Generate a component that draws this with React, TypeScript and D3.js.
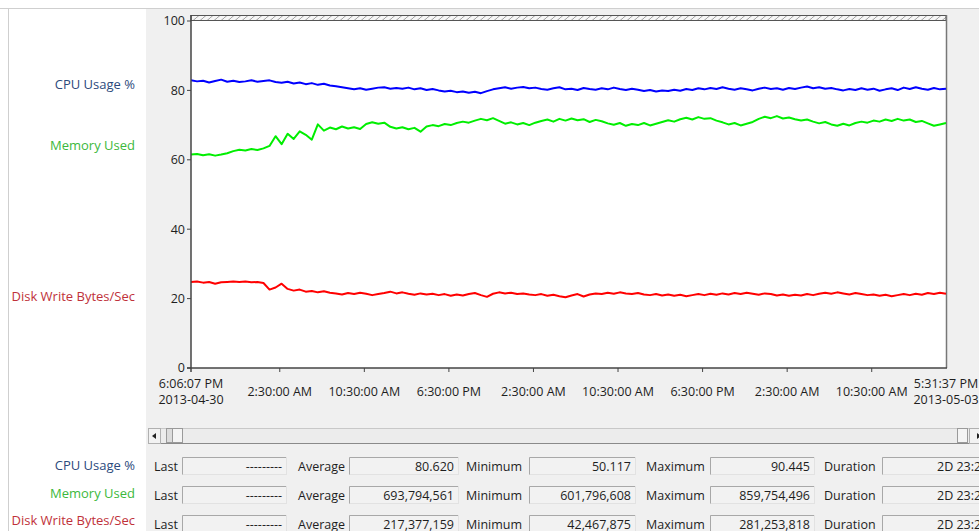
import React from "react";
import * as d3 from "d3";

const seriesNames = ["CPU Usage %", "Memory Used", "Disk Write Bytes/Sec"];
const seriesColors = ["#0000ff", "#00ee00", "#ff0000"];
const labelColors = ["#2c4a7c", "#3cb83c", "#c0313a"];

const startTime = new Date(2013, 3, 30, 18, 6, 7);
const endTime = new Date(2013, 4, 3, 17, 31, 37);

const xTickTimes = [
  new Date(2013, 4, 1, 2, 30, 0),
  new Date(2013, 4, 1, 10, 30, 0),
  new Date(2013, 4, 1, 18, 30, 0),
  new Date(2013, 4, 2, 2, 30, 0),
  new Date(2013, 4, 2, 10, 30, 0),
  new Date(2013, 4, 2, 18, 30, 0),
  new Date(2013, 4, 3, 2, 30, 0),
  new Date(2013, 4, 3, 10, 30, 0),
];
const yTicks = [0, 20, 40, 60, 80, 100];

const cpuValues = [
  82.9, 82.6, 82.8, 82.3, 82.7, 83.1, 82.5, 82.8, 82.4, 82.6, 82.9, 82.5,
  82.7, 82.9, 82.4, 82.2, 82.5, 82.0, 82.3, 81.8, 82.1, 81.6, 81.9, 81.4,
  81.2, 80.9, 80.6, 80.3, 80.6, 80.2, 80.5, 80.8, 80.9, 80.5, 80.7,
  80.5, 80.8, 80.3, 80.6, 80.1, 80.4, 80.0, 79.7, 79.9, 79.5, 79.7,
  79.3, 79.6, 79.2, 79.8, 80.3, 80.6, 80.9, 80.5, 80.8, 81.0, 80.6,
  80.8, 80.4, 80.2, 80.6, 80.9, 80.3, 80.5, 80.1, 80.7, 80.4, 80.2,
  80.6, 80.3, 80.8, 80.4, 80.1, 80.5, 80.2, 79.8, 80.1, 79.7, 80.0,
  79.8, 80.2, 79.9, 80.4, 80.1, 80.6, 80.3, 80.7, 80.4, 80.9, 80.5,
  80.2, 80.6, 80.3, 80.0, 80.5, 80.8, 80.4, 80.6, 80.2, 80.7, 80.4,
  80.8, 81.1, 80.6, 80.9, 80.5, 80.7, 80.3, 80.0, 80.4, 80.1, 80.6,
  80.2, 80.5, 79.9, 80.3, 80.6, 80.1, 80.8, 80.4, 80.9, 80.5, 80.2, 80.7, 80.3, 80.5,
];

const memoryValues = [
  61.5, 61.7, 61.3, 61.6, 61.2, 61.5, 61.9, 62.5, 62.9, 62.7, 63.1, 62.8,
  63.3, 64.0, 66.8, 64.5, 67.5, 66.0, 68.2, 67.2, 65.8, 70.2, 68.4, 69.3,
  68.8, 69.6, 69.0, 69.4, 68.9, 70.3, 70.8, 70.4, 70.7, 69.5, 69.0,
  69.4, 68.8, 69.2, 68.1, 69.6, 70.0, 69.7, 70.3, 70.0, 70.6, 71.0,
  70.7, 71.3, 71.8, 71.4, 72.0, 71.2, 70.4, 70.8, 70.2, 70.6, 70.0,
  70.7, 71.2, 71.6, 71.0, 71.8, 71.3, 71.9, 71.4, 71.7, 70.9, 71.5,
  71.1, 70.5, 70.1, 70.6, 69.8, 70.3, 70.0, 70.6, 69.9, 70.4, 70.9,
  71.4, 71.0, 71.7, 72.1, 71.6, 72.3, 71.8, 72.0, 71.3, 70.8, 70.2,
  70.6, 69.9, 70.4, 70.9, 71.8, 72.4, 72.0, 72.6, 71.9, 72.2, 71.7,
  71.3, 71.6, 71.0, 70.5, 70.9, 70.2, 69.8, 70.4, 69.9, 70.6, 71.0,
  70.7, 71.3, 71.0, 71.6, 71.2, 71.8, 71.3, 71.6, 70.9, 71.2, 70.5, 69.8, 70.2, 70.6,
];

const diskValues = [
  24.8, 24.9, 24.6, 24.8, 24.3, 24.7, 24.8, 24.9, 24.8, 24.9, 24.7, 24.8,
  24.5, 22.6, 23.2, 24.3, 22.8, 22.3, 22.6, 22.0, 22.2, 21.8, 22.1, 21.7,
  21.5, 21.2, 21.6, 21.3, 21.7, 21.4, 21.0, 21.3, 21.6, 22.0, 21.5,
  21.8, 21.4, 21.1, 21.5, 21.2, 21.4, 21.0, 21.3, 20.8, 21.2, 20.9,
  21.3, 21.6, 21.0, 20.5, 21.4, 21.8, 21.5, 21.7, 21.3, 21.5, 21.2,
  21.0, 21.3, 20.8, 21.1, 20.7, 20.4, 20.9, 21.3, 20.6, 21.2, 21.5,
  21.3, 21.7, 21.4, 21.8, 21.5, 21.3, 21.6, 21.2, 21.0, 21.3, 20.9,
  21.2, 20.8, 21.1, 20.7, 21.0, 21.3, 21.0, 21.4, 21.1, 21.5, 21.2,
  21.6, 21.3, 21.7, 21.4, 21.1, 21.5, 21.3, 20.9, 21.2, 20.8, 21.1,
  20.9, 21.3, 21.0, 21.4, 21.7, 21.4, 21.8, 21.5, 21.2, 21.6, 21.3,
  21.0, 21.2, 20.8, 21.1, 20.7, 21.0, 21.3, 21.0, 21.4, 21.1, 21.6, 21.3, 21.7, 21.4,
];

const statLabels = ["Last", "Average", "Minimum", "Maximum", "Duration"];
const lastValues = ["---------", "---------", "---------"];
const averageValues = ["80.620", "693,794,561", "217,377,159"];
const minimumValues = ["50.117", "601,796,608", "42,467,875"];
const maximumValues = ["90.445", "859,754,496", "281,253,818"];
const durationValues = ["2D 23:25:30", "2D 23:25:30", "2D 23:25:30"];

const W = 979;
const H = 531;
const FONT = "'Open Sans', 'Noto Sans', sans-serif";
const TEXT = "#1e1e1e";
const FS = 12.5;

export default function App() {
  const left = 191;
  const right = 946;
  const top = 21;
  const bottom = 368;

  const x = d3.scaleTime().domain([startTime, endTime]).range([left, right]);
  const y = d3.scaleLinear().domain([0, 100]).range([bottom, top]);

  const allSeries = [cpuValues, memoryValues, diskValues];
  const span = endTime.getTime() - startTime.getTime();
  const line = (vals: number[]) =>
    d3
      .line<number>()
      .x((_, i) => x(new Date(startTime.getTime() + (span * i) / (vals.length - 1))))
      .y((v) => y(v))(vals) as string;

  const fmt = d3.timeFormat("%-I:%M:%S %p");
  const fmtDate = d3.timeFormat("%Y-%m-%d");

  const labelY = [84, 145, 296];

  // stat table layout
  const rowY = [466, 495, 524];
  const rowLabelY = [465, 493, 520];
  const labelX = [154, 298, 466, 646, 824];
  const boxes = [
    [182, 286],
    [349, 458],
    [529, 635],
    [710, 814],
    [882, 1020],
  ];
  const colValues = [lastValues, averageValues, minimumValues, maximumValues, durationValues];

  const hatchId = "hatch";

  return (
    <svg
      width={W}
      height={H}
      style={{ position: "absolute", left: 0, top: 0, fontFamily: FONT }}
    >
      <defs>
        <pattern id={hatchId} width="7" height="6" patternUnits="userSpaceOnUse">
          <rect width="7" height="6" fill="#f6f6f6" />
          <path d="M0,6 L7,0" stroke="#a0a0a0" strokeWidth="1" />
        </pattern>
      </defs>
      <rect x={0} y={0} width={W} height={H} fill="#ffffff" />
      <rect x={146} y={9} width={W - 146} height={H - 9} fill="#f0f0f0" />
      <line x1={0} y1={8.5} x2={W} y2={8.5} stroke="#cfcfcf" />
      <line x1={8.5} y1={8} x2={8.5} y2={H} stroke="#cfcfcf" />

      {/* plot area */}
      <rect x={left} y={top} width={right - left} height={bottom - top} fill="#ffffff" />
      <rect x={left} y={15.5} width={right - left} height={5} fill={`url(#${hatchId})`} stroke="#555" strokeWidth={1} />
      <line x1={right + 0.5} y1={15} x2={right + 0.5} y2={bottom} stroke="#777" strokeWidth={1.5} />

      {allSeries.map((vals, i) => (
        <path key={i} d={line(vals)} fill="none" stroke={seriesColors[i]} strokeWidth={2} strokeLinejoin="round" />
      ))}

      {/* axes */}
      <line x1={left} y1={15} x2={left} y2={bottom + 4} stroke="#444" strokeWidth={1.5} />
      <line x1={left - 4} y1={bottom} x2={right + 1} y2={bottom} stroke="#444" strokeWidth={1.5} />
      {yTicks.map((t) => (
        <g key={t}>
          <line x1={left - 4} x2={left} y1={y(t)} y2={y(t)} stroke="#444" />
          <text x={left - 6} y={y(t)} dy="0.35em" textAnchor="end" fontSize={FS} fill={TEXT}>
            {t}
          </text>
        </g>
      ))}
      {xTickTimes.map((t, i) => (
        <g key={i}>
          <line x1={x(t)} x2={x(t)} y1={bottom} y2={bottom + 4} stroke="#444" />
          <text x={x(t)} y={392} dy="0.35em" textAnchor="middle" fontSize={FS} fill={TEXT}>
            {fmt(t)}
          </text>
        </g>
      ))}
      {[startTime, endTime].map((t, i) => (
        <g key={"e" + i}>
          <text x={x(t)} y={384} dy="0.35em" textAnchor="middle" fontSize={FS} fill={TEXT}>
            {fmt(t)}
          </text>
          <text x={x(t)} y={400} dy="0.35em" textAnchor="middle" fontSize={FS} fill={TEXT}>
            {fmtDate(t)}
          </text>
        </g>
      ))}

      {/* series labels */}
      {seriesNames.map((n, i) => (
        <text key={n} x={135} y={labelY[i]} dy="0.35em" textAnchor="end" fontSize={13} fill={labelColors[i]}>
          {n}
        </text>
      ))}

      {/* scrollbar */}
      <rect x={148.5} y={428.5} width={W - 148} height={15} fill="#ececec" stroke="#c8c8c8" />
      <line x1={148} y1={443.5} x2={W} y2={443.5} stroke="#8a8a8a" />
      <rect x={148.5} y={428.5} width={12} height={15} fill="#f2f2f2" stroke="#b0b0b0" />
      <path d="M152,436 L156,433 L156,439 Z" fill="#222" />
      <rect x={166.5} y={428.5} width={6} height={14} fill="#dcdcdc" stroke="#9a9a9a" />
      <rect x={172.5} y={428.5} width={10} height={14} fill="#f4f4f4" stroke="#9a9a9a" />
      <rect x={957.5} y={428.5} width={10} height={14} fill="#f4f4f4" stroke="#9a9a9a" />
      <rect x={969.5} y={428.5} width={12} height={15} fill="#f2f2f2" stroke="#b0b0b0" />
      <path d="M977,433 L981,436 L977,439 Z" fill="#222" />

      {/* stats table */}
      {seriesNames.map((n, r) => (
        <g key={"row" + r}>
          <text x={135} y={rowLabelY[r]} dy="0.35em" textAnchor="end" fontSize={13} fill={labelColors[r]}>
            {n}
          </text>
          {statLabels.map((s, c) => (
            <g key={s}>
              <text x={labelX[c]} y={rowY[r] + 1} dy="0.35em" fontSize={FS} fill={TEXT}>
                {s}
              </text>
              <rect x={boxes[c][0] + 0.5} y={rowY[r] - 8.5} width={boxes[c][1] - boxes[c][0]} height={17} fill="#f2f2f2" stroke="#e2e2e2" />
              <path
                d={`M${boxes[c][0] + 0.5},${rowY[r] + 8.5} V${rowY[r] - 8.5} H${boxes[c][1]}`}
                fill="none"
                stroke="#a8a8a8"
              />
              <text
                x={c === 4 ? 937 : boxes[c][1] - 4}
                y={rowY[r] + 1}
                dy="0.35em"
                textAnchor={c === 4 ? "start" : "end"}
                fontSize={FS}
                fill={TEXT}
              >
                {colValues[c][r]}
              </text>
            </g>
          ))}
        </g>
      ))}
    </svg>
  );
}
